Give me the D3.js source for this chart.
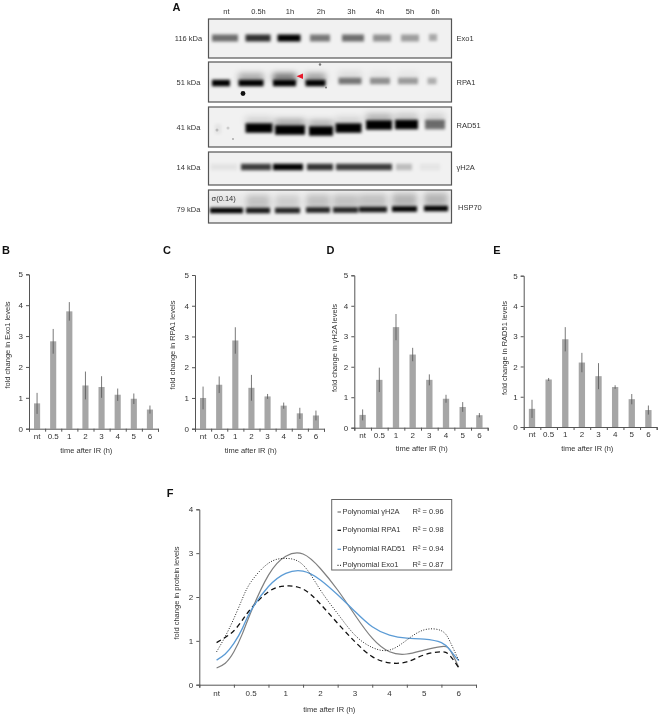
<!DOCTYPE html>
<html>
<head>
<meta charset="utf-8">
<script src="https://cdn.jsdelivr.net/npm/d3@7"></script>
<style>
    body { margin: 0; background: #fff; }
    svg { display: block; filter: blur(0.3px); }
    text { font-family: "Liberation Sans", Arial, sans-serif; fill: #333; }
</style>
</head>
<body>
<div id="chart"></div>
<script>
// blot lanes, band strength 0-1
const laneLabels = ["nt", "0.5h", "1h", "2h", "3h", "4h", "5h", "6h"];
const exo1Bands = [0.55, 0.8, 1, 0.5, 0.55, 0.4, 0.35, 0.3];
const rpa1Bands = [1, 1, 1, 1, 0.5, 0.4, 0.35, 0.28];
const rpa1Smear = [0, 0.35, 0.6, 0.4, 0.1, 0.05, 0.05, 0];
const rad51Bands = [0.06, 1, 1, 1, 1, 1, 1, 0.55];
const rad51Smear = [0, 0.15, 0.35, 0.3, 0.15, 0.3, 0.2, 0.15];
const h2aBands = [0.06, 0.75, 1, 0.8, 0.75, 0.75, 0.22, 0.05];
const hsp70Bands = [1, 0.9, 0.85, 0.85, 0.85, 0.9, 1, 1];
const hsp70Smear = [0.05, 0.2, 0.15, 0.2, 0.2, 0.2, 0.25, 0.25];

// bar panels
const timeLabels = ["nt", "0.5", "1", "2", "3", "4", "5", "6"];
const exo1Fold = [0.82, 2.83, 3.8, 1.4, 1.35, 1.1, 0.97, 0.62];
const exo1Err = [0.34, 0.4, 0.3, 0.45, 0.35, 0.2, 0.17, 0.13];
const rpa1Fold = [1.0, 1.43, 2.87, 1.33, 1.05, 0.75, 0.5, 0.43];
const rpa1Err = [0.37, 0.27, 0.43, 0.42, 0.08, 0.1, 0.18, 0.16];
const h2aFold = [0.42, 1.57, 3.3, 2.4, 1.57, 0.95, 0.68, 0.41];
const h2aErr = [0.18, 0.4, 0.43, 0.22, 0.18, 0.13, 0.16, 0.07];
const rad51Fold = [0.6, 1.57, 2.9, 2.13, 1.68, 1.32, 0.92, 0.56];
const rad51Err = [0.3, 0.05, 0.4, 0.32, 0.43, 0.06, 0.17, 0.15];

// panel F, curves read at these positions along the axis (0 = nt, 7 = 6h)
const fitPositions = [0, 0.25, 0.5, 0.75, 1, 1.5, 2, 2.5, 3, 3.5, 4, 4.5, 5, 5.5, 6, 6.5, 6.75, 7];
const h2aFit = [0.38, 0.49, 0.75, 1.17, 1.67, 2.5, 2.93, 2.98, 2.65, 2.16, 1.59, 1.06, 0.75, 0.7, 0.79, 0.87, 0.79, 0.4];
const rpa1Fit = [0.96, 1.08, 1.23, 1.48, 1.74, 2.12, 2.25, 2.18, 1.84, 1.4, 0.98, 0.64, 0.5, 0.52, 0.68, 0.75, 0.66, 0.39];
const rad51Fit = [0.56, 0.7, 0.94, 1.29, 1.7, 2.24, 2.54, 2.59, 2.39, 2.05, 1.67, 1.32, 1.13, 1.06, 1.04, 0.96, 0.79, 0.55];
const exo1Fit = [0.75, 1.1, 1.51, 1.97, 2.35, 2.77, 2.88, 2.73, 2.16, 1.62, 1.13, 0.85, 0.79, 1.02, 1.25, 1.23, 0.98, 0.56];
const fitNames = ["Polynomial γH2A", "Polynomial RPA1", "Polynomial RAD51", "Polynomial Exo1"];
const fitR2 = [0.96, 0.98, 0.94, 0.87];

const svg = d3.select("#chart").append("svg").attr("width", 660).attr("height", 716);
const defs = svg.append("defs");
defs.append("filter").attr("id", "blur").attr("x", "-20%").attr("y", "-60%").attr("width", "140%").attr("height", "220%")
    .append("feGaussianBlur").attr("stdDeviation", "1.6 1.5");
defs.append("filter").attr("id", "blurWide").attr("x", "-20%").attr("y", "-60%").attr("width", "140%").attr("height", "220%")
    .append("feGaussianBlur").attr("stdDeviation", 3);

function panelLetter(label, x, y) {
    svg.append("text").attr("x", x).attr("y", y).attr("text-anchor", "middle").attr("dy", "0.35em")
        .style("font-size", "11px").style("font-weight", "bold").style("fill", "#111").text(label);
}

// Panel A
const blots = [
    { name: "Exo1", kda: "116 kDa", top: 19, bottom: 58, nameY: 38.7, kdaY: 38.3, bands: exo1Bands, h: 7,
      x: [225, 258, 289, 320, 353, 382, 410, 433], w: [26, 25, 23, 20, 22, 18, 18, 8], y: [38, 38, 38, 38, 38, 38, 38, 37.5] },
    { name: "RPA1", kda: "51 kDa", top: 62, bottom: 102, nameY: 82.7, kdaY: 82, bands: rpa1Bands, smear: rpa1Smear, h: 6.5,
      x: [221, 251, 284.5, 315.5, 350, 380, 408, 432], w: [18, 25, 23, 20, 23, 20, 20, 9], y: [83, 83, 83, 83, 81, 81, 81, 81] },
    { name: "RAD51", kda: "41 kDa", top: 107, bottom: 147, nameY: 125, kdaY: 127.7, bands: rad51Bands, smear: rad51Smear, h: 9.5,
      x: [218, 259, 290, 321, 348.5, 379, 406.5, 435], w: [6, 27, 30, 24, 26, 26, 23, 20], y: [129, 128, 130, 131, 128, 125, 124.5, 124.5] },
    { name: "γH2A", kda: "14 kDa", top: 152, bottom: 185, nameY: 167, kdaY: 167, bands: h2aBands, h: 6.5,
      x: [224, 256, 288, 320, 350, 378, 404, 430], w: [26, 30, 30, 26, 28, 28, 16, 20], y: [167, 167, 167, 167, 167, 167, 167, 167] },
    { name: "HSP70", kda: "79 kDa", top: 190, bottom: 223, nameY: 207, nameX: 458, kdaY: 209, bands: hsp70Bands, smear: hsp70Smear, h: 5.5,
      x: [226.5, 258, 287.5, 318, 345.5, 373, 404.5, 436], w: [33, 24, 25, 24, 25, 28, 25, 24], y: [210.5, 210.5, 210.5, 210, 210, 209.5, 209, 208.5] }
];
const blotLeft = 208.5, blotRight = 451.5;

laneLabels.forEach((d, i) => {
    const laneX = d3.scaleOrdinal(laneLabels, [226.5, 258.5, 290, 321, 351.5, 380, 410, 435.5]);
    svg.append("text").attr("x", laneX(d)).attr("y", 11).attr("dy", "0.35em").attr("text-anchor", "middle")
        .style("font-size", "7.5px").text(d);
});

blots.forEach((b, k) => {
    const clipId = "clip" + k;
    defs.append("clipPath").attr("id", clipId).append("rect")
        .attr("x", blotLeft).attr("y", b.top).attr("width", blotRight - blotLeft).attr("height", b.bottom - b.top);
    const laneX = d3.scaleOrdinal(laneLabels, b.x);
    const g = svg.append("g").attr("clip-path", `url(#${clipId})`);
    g.append("rect").attr("x", blotLeft).attr("y", b.top).attr("width", blotRight - blotLeft).attr("height", b.bottom - b.top)
        .attr("fill", "#f1f1f1");
    if (b.smear) {
        const smearTall = b.name === "HSP70" ? 14 : 7;
        g.append("g").attr("filter", "url(#blurWide)").selectAll("rect")
            .data(b.smear).enter().append("rect")
            .attr("x", (d, i) => laneX(laneLabels[i]) - b.w[i] / 2)
            .attr("y", (d, i) => b.y[i] - b.h / 2 - smearTall + 1)
            .attr("width", (d, i) => b.w[i])
            .attr("height", smearTall)
            .attr("fill", "#000").attr("opacity", d => d);
    }
    g.append("g").attr("filter", "url(#blur)").selectAll("rect")
        .data(b.bands).enter().append("rect")
        .attr("x", (d, i) => laneX(laneLabels[i]) - b.w[i] / 2)
        .attr("y", (d, i) => b.y[i] - b.h / 2)
        .attr("width", (d, i) => b.w[i])
        .attr("height", b.h)
        .attr("fill", "#000").attr("opacity", d => d);
    svg.append("rect").attr("x", blotLeft).attr("y", b.top).attr("width", blotRight - blotLeft).attr("height", b.bottom - b.top)
        .attr("fill", "none").attr("stroke", "#555").attr("stroke-width", 1.2);
    svg.append("text").attr("x", b.nameX || 456.5).attr("y", b.nameY).attr("dy", "0.35em")
        .style("font-size", "7.5px").text(b.name);
    svg.append("text").attr("x", 188.5).attr("y", b.kdaY).attr("dy", "0.35em").attr("text-anchor", "middle")
        .style("font-size", "7.5px").text(b.kda);
});

// specks on the membranes
svg.append("circle").attr("cx", 243).attr("cy", 93.5).attr("r", 2.4).attr("fill", "#111");
svg.append("circle").attr("cx", 320).attr("cy", 64.5).attr("r", 1.2).attr("fill", "#777");
svg.append("circle").attr("cx", 326).attr("cy", 87.5).attr("r", 1).attr("fill", "#777");
svg.append("circle").attr("cx", 217).attr("cy", 130).attr("r", 1.5).attr("fill", "#bbb");
svg.append("circle").attr("cx", 228).attr("cy", 128).attr("r", 1.5).attr("fill", "#ccc");
svg.append("circle").attr("cx", 233).attr("cy", 139).attr("r", 1).attr("fill", "#aaa");
svg.append("path").attr("d", "M296.5,76.3L303,73.5L303,79Z").attr("fill", "#e8192c");
svg.append("text").attr("x", 211.5).attr("y", 198).attr("dy", "0.35em").style("font-size", "7.5px").text("σ(0.14)");

// Panels B-E
function createBarPanel(values, errors, o) {
    const x = d3.scaleBand().domain(timeLabels).range([o.left, o.right]);
    const y = d3.scaleLinear().domain([0, 5]).range([o.y0, o.y5]);
    const barWidth = x.bandwidth() * 0.38;

    svg.append("g").selectAll("rect")
        .data(values).enter().append("rect")
        .attr("x", (d, i) => x(timeLabels[i]) + x.bandwidth() / 2 - barWidth / 2)
        .attr("y", d => y(d))
        .attr("width", barWidth)
        .attr("height", d => y(0) - y(d))
        .attr("fill", "#a6a6a6");

    svg.append("g").selectAll("line")
        .data(values).enter().append("line")
        .attr("x1", (d, i) => x(timeLabels[i]) + x.bandwidth() / 2)
        .attr("x2", (d, i) => x(timeLabels[i]) + x.bandwidth() / 2)
        .attr("y1", (d, i) => y(d - errors[i]))
        .attr("y2", (d, i) => y(d + errors[i]))
        .attr("stroke", "#555").attr("stroke-width", 0.8);

    drawAxes(x, y, o, [0, 1, 2, 3, 4, 5]);
    svg.append("text").attr("text-anchor", "middle").attr("dy", "0.35em")
        .attr("transform", `translate(${o.yLabelX},${o.yLabelY}) rotate(-90)`)
        .style("font-size", "7.5px").text(o.yLabel);
    svg.append("text").attr("x", o.xLabelX).attr("y", o.xLabelY).attr("dy", "0.35em").attr("text-anchor", "middle")
        .style("font-size", "7.5px").text("time after IR (h)");
}

function drawAxes(x, y, o, yTicks) {
    const edges = d3.scaleLinear().domain([0, timeLabels.length]).range(x.range());
    svg.append("g").attr("transform", `translate(0,${o.y0})`)
        .call(d3.axisBottom(edges).ticks(timeLabels.length).tickSize(3).tickFormat(""))
        .call(s => s.selectAll("path,line").attr("stroke", "#555").attr("stroke-width", 1));
    svg.append("g").attr("transform", `translate(0,${o.y0})`)
        .call(d3.axisBottom(x).tickSize(0).tickPadding(o.labelPad))
        .call(s => s.select(".domain").remove())
        .call(s => s.selectAll("text").style("font-size", "8px").style("font-family", null));
    svg.append("g").attr("transform", `translate(${o.left},0)`)
        .call(d3.axisLeft(y).tickValues(yTicks).tickFormat(d3.format("d")).tickSize(3).tickPadding(3))
        .call(s => s.selectAll("path,line").attr("stroke", "#555").attr("stroke-width", 1))
        .call(s => s.selectAll("text").style("font-size", "8px").style("font-family", null));
}

createBarPanel(exo1Fold, exo1Err, { left: 29, right: 158, y0: 428.7, y5: 274.3, labelPad: 4.5,
    yLabel: "fold change in Exo1 levels", yLabelX: 7.5, yLabelY: 345, xLabelX: 86.3, xLabelY: 450 });
createBarPanel(rpa1Fold, rpa1Err, { left: 195, right: 324, y0: 428.7, y5: 275, labelPad: 4.5,
    yLabel: "fold change in RPA1 levels", yLabelX: 172, yLabelY: 345, xLabelX: 250.7, xLabelY: 450 });
createBarPanel(h2aFold, h2aErr, { left: 354.3, right: 487.7, y0: 427.7, y5: 275.3, labelPad: 4.5,
    yLabel: "fold change in γH2A levels", yLabelX: 334, yLabelY: 348, xLabelX: 421.7, xLabelY: 448.7 });
createBarPanel(rad51Fold, rad51Err, { left: 523.7, right: 656.7, y0: 427, y5: 275.7, labelPad: 4.5,
    yLabel: "fold change in RAD51 levels", yLabelX: 504.3, yLabelY: 348, xLabelX: 587.3, xLabelY: 448.7 });

// Panel F
const fx = d3.scaleBand().domain(timeLabels).range([199.3, 476]);
const fy = d3.scaleLinear().domain([0, 4]).range([684.7, 509.3]);
const fPos = d3.scaleLinear().domain([0, 7]).range([fx("nt") + fx.bandwidth() / 2, fx("6") + fx.bandwidth() / 2]);
const fitLine = d3.line().x((d, i) => fPos(fitPositions[i])).y(d => fy(d)).curve(d3.curveNatural);

drawAxes(fx, fy, { left: 199.3, y0: 684.7, labelPad: 6 }, [0, 1, 2, 3, 4]);

const fitStyles = [
    { values: h2aFit, color: "#7f7f7f", width: 1.2, dash: null },
    { values: rpa1Fit, color: "#111", width: 1.3, dash: "5 3.5" },
    { values: rad51Fit, color: "#5b9bd5", width: 1.3, dash: null },
    { values: exo1Fit, color: "#222", width: 1, dash: "1 1.6" }
];
fitStyles.forEach(s => {
    svg.append("path").attr("d", fitLine(s.values)).attr("fill", "none")
        .attr("stroke", s.color).attr("stroke-width", s.width).attr("stroke-dasharray", s.dash);
});

svg.append("text").attr("text-anchor", "middle").attr("dy", "0.35em")
    .attr("transform", "translate(176,593) rotate(-90)").style("font-size", "7.5px").text("fold change in protein levels");
svg.append("text").attr("x", 329.3).attr("y", 709).attr("dy", "0.35em").attr("text-anchor", "middle")
    .style("font-size", "7.5px").text("time after IR (h)");

// legend box
svg.append("rect").attr("x", 331.7).attr("y", 499.5).attr("width", 120).attr("height", 70.5)
    .attr("fill", "#fff").attr("stroke", "#666").attr("stroke-width", 1);
const legendY = d3.scaleOrdinal(fitNames, [511, 529.3, 548.3, 564.3]);
const legend = svg.append("g").selectAll("g").data(fitNames).enter().append("g")
    .attr("transform", d => `translate(0,${legendY(d)})`);
legend.append("line").attr("x1", 337.5).attr("x2", 341).attr("y1", 1).attr("y2", 1)
    .attr("stroke", (d, i) => fitStyles[i].color).attr("stroke-width", 1.3)
    .attr("stroke-dasharray", (d, i) => i === 3 ? "1 1.6" : null);
legend.append("text").attr("x", 342.5).attr("dy", "0.35em").style("font-size", "7.5px").text(d => d);
legend.append("text").attr("x", 412.5).attr("dy", "0.35em").style("font-size", "7.5px")
    .text((d, i) => `R² = ${fitR2[i].toFixed(2)}`);

panelLetter("A", 176.5, 7);
panelLetter("B", 6, 250);
panelLetter("C", 167, 250);
panelLetter("D", 330.5, 250);
panelLetter("E", 497, 250);
panelLetter("F", 170, 493);
</script>
</body>
</html>
